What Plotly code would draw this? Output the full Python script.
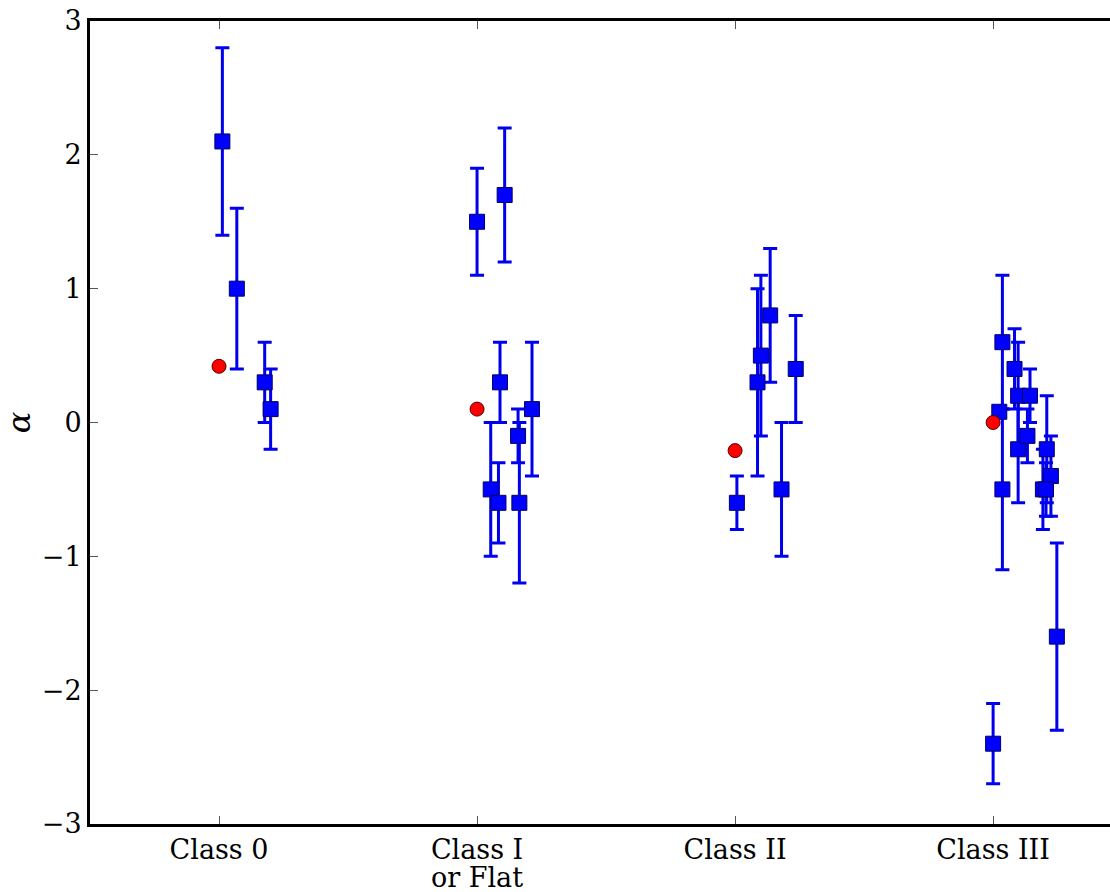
import plotly.graph_objects as go

# ---- data ----
categories = ["Class 0", "Class I", "Class II", "Class III"]
category_second_line = ["", "or Flat", "", ""]
class_index = [0, 1, 2, 3]

# blue squares: class index, small horizontal jitter, alpha, error
sq_class = [0, 0, 0, 0,
            1, 1, 1, 1, 1, 1, 1, 1,
            2, 2, 2, 2, 2, 2,
            3, 3, 3, 3, 3, 3, 3, 3, 3, 3, 3, 3, 3, 3]
sq_jitter = [0.013, 0.069, 0.177, 0.200,
             0.000, 0.107, 0.089, 0.053, 0.083, 0.159, 0.164, 0.213,
             0.007, 0.087, 0.100, 0.136, 0.235, 0.180,
             0.000, 0.024, 0.036, 0.036, 0.083, 0.097, 0.097, 0.143, 0.133,
             0.208, 0.224, 0.193, 0.205, 0.247]
sq_alpha = [2.1, 1.0, 0.3, 0.1,
            1.5, 1.7, 0.3, -0.5, -0.6, -0.1, -0.6, 0.1,
            -0.6, 0.3, 0.5, 0.8, 0.4, -0.5,
            -2.4, 0.08, 0.6, -0.5, 0.4, 0.2, -0.2, 0.2, -0.1,
            -0.2, -0.4, -0.5, -0.5, -1.6]
sq_err = [0.7, 0.6, 0.3, 0.3,
          0.4, 0.5, 0.3, 0.5, 0.3, 0.2, 0.6, 0.5,
          0.2, 0.7, 0.6, 0.5, 0.4, 0.5,
          0.3, 0.0, 0.5, 0.6, 0.3, 0.4, 0.4, 0.2, 0.2,
          0.4, 0.3, 0.3, 0.2, 0.7]

# red circles: one per class
red_alpha = [0.42, 0.1, -0.21, 0.0]

y_ticks = [-3, -2, -1, 0, 1, 2, 3]

# ---- figure ----
sq_x = [c + j for c, j in zip(sq_class, sq_jitter)]

fig = go.Figure()
fig.add_trace(go.Scatter(
    x=sq_x, y=sq_alpha, mode="markers",
    marker=dict(symbol="square", size=15, color="#0000ff",
                line=dict(color="#000066", width=1)),
    error_y=dict(type="data", array=sq_err, visible=True,
                 color="#0000ee", thickness=3, width=7),
    showlegend=False, hoverinfo="skip"))
fig.add_trace(go.Scatter(
    x=class_index, y=red_alpha, mode="markers",
    marker=dict(symbol="circle", size=14, color="#ff0000",
                line=dict(color="#550000", width=1)),
    showlegend=False, hoverinfo="skip"))

serif = "DejaVu Serif"
fig.update_layout(
    width=1110, height=892,
    margin=dict(l=90, r=0, t=21, b=68),
    paper_bgcolor="white", plot_bgcolor="white",
    font=dict(family=serif, size=27, color="black"),
)
fig.update_xaxes(
    range=[-0.5, 3.453],
    tickmode="array", tickvals=class_index, ticktext=categories,
    ticks="inside", ticklen=8, tickwidth=1, tickcolor="#555555",
    showline=True, linewidth=3, linecolor="black", mirror="ticks",
    showgrid=False, zeroline=False, automargin=False,
    tickfont=dict(family=serif, size=27, color="black"),
    ticklabelstandoff=0,
)
fig.update_yaxes(
    range=[-3, 3],
    tickmode="array", tickvals=y_ticks,
    ticks="inside", ticklen=8, tickwidth=1, tickcolor="#555555",
    showline=True, linewidth=3, linecolor="black", mirror=False,
    showgrid=False, zeroline=False, automargin=False,
    tickfont=dict(family=serif, size=27, color="black"),
    title=dict(text="<i>α</i>", font=dict(family=serif, size=32, color="black"),
               standoff=14),
)

for xi, txt in zip(class_index, category_second_line):
    if txt:
        fig.add_annotation(
            x=xi, xref="x", y=-0.067, yref="paper", yanchor="middle",
            text=txt, showarrow=False, borderpad=0,
            font=dict(family=serif, size=27, color="black"))

fig.write_html(
    "out.html",
    config={"displayModeBar": False},
    post_script="document.body.style.margin='0';document.body.style.overflow='hidden';",
)
